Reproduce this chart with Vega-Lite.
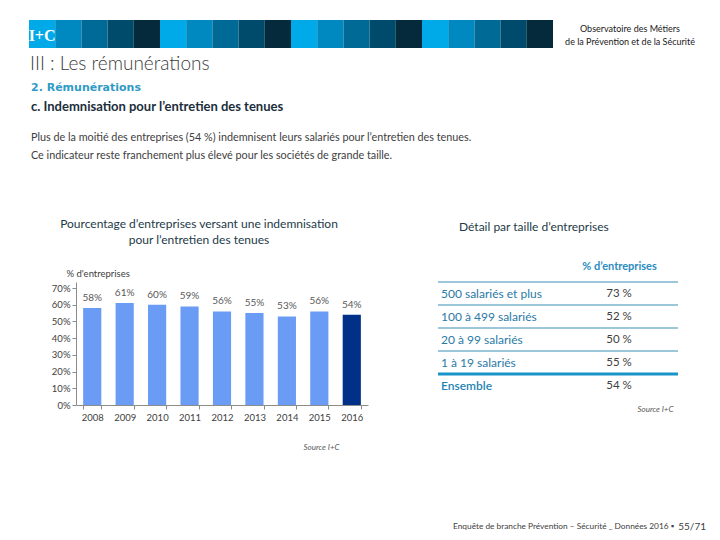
{
  "$schema": "https://vega.github.io/schema/vega-lite/v6.json",
  "background": "white",
  "padding": {"left": 28, "top": 20, "right": 0, "bottom": 0},
  "spacing": 0,
  "bounds": "flush",
  "config": {
    "view": {"stroke": null},
    "font": "Lato",
    "axis": {"labelFont": "Lato", "titleFont": "Lato"},
    "title": {"font": "Lato"}
  },
  "datasets": {
    "bande": [
      {"case": 1, "teinte": "a", "logo": "I+C"},
      {"case": 2, "teinte": "b"}, {"case": 3, "teinte": "c"}, {"case": 4, "teinte": "d"}, {"case": 5, "teinte": "e"},
      {"case": 6, "teinte": "a"}, {"case": 7, "teinte": "b"}, {"case": 8, "teinte": "c"}, {"case": 9, "teinte": "d"}, {"case": 10, "teinte": "e"},
      {"case": 11, "teinte": "a"}, {"case": 12, "teinte": "b"}, {"case": 13, "teinte": "c"}, {"case": 14, "teinte": "d"}, {"case": 15, "teinte": "e"},
      {"case": 16, "teinte": "a"}, {"case": 17, "teinte": "b"}, {"case": 18, "teinte": "c"}, {"case": 19, "teinte": "d"}, {"case": 20, "teinte": "e"}
    ],
    "entete": [
      {"ligne": 1, "texte": "Observatoire des Métiers"},
      {"ligne": 2, "texte": "de la Prévention et de la Sécurité"}
    ],
    "textes": [
      {"bloc": "partie", "texte": "III : Les rémunérations"},
      {"bloc": "section", "texte": "2. Rémunérations"},
      {"bloc": "sous-section", "texte": "c. Indemnisation pour l’entretien des tenues"},
      {"bloc": "commentaire", "texte": ["Plus de la moitié des entreprises (54 %) indemnisent leurs salariés pour l’entretien des tenues.", "Ce indicateur reste franchement plus élevé pour les sociétés de grande taille."]}
    ],
    "pied": [
      {"zone": "pied", "role": "source", "texte": "Enquête de branche Prévention – Sécurité _ Données 2016 ▪"},
      {"zone": "pied", "role": "page", "texte": "55/71"}
    ],
    "annees": [
      {"annee": "2008", "pct": 0.58},
      {"annee": "2009", "pct": 0.61},
      {"annee": "2010", "pct": 0.60},
      {"annee": "2011", "pct": 0.59},
      {"annee": "2012", "pct": 0.56},
      {"annee": "2013", "pct": 0.55},
      {"annee": "2014", "pct": 0.53},
      {"annee": "2015", "pct": 0.56},
      {"annee": "2016", "pct": 0.54}
    ],
    "tailles": [
      {"taille": "500 salariés et plus", "part": 0.73},
      {"taille": "100 à 499 salariés", "part": 0.52},
      {"taille": "20 à 99 salariés", "part": 0.50},
      {"taille": "1 à 19 salariés", "part": 0.55},
      {"taille": "Ensemble", "part": 0.54}
    ]
  },
  "vconcat": [
    {
      "spacing": 0,
      "bounds": "flush",
      "hconcat": [
        {
          "width": 524,
          "height": 28,
          "data": {"name": "bande"},
          "layer": [
            {
              "mark": {"type": "rect"},
              "encoding": {
                "x": {"field": "case", "type": "ordinal", "axis": null, "scale": {"paddingInner": 0, "paddingOuter": 0}},
                "color": {"field": "teinte", "type": "nominal", "legend": null,
                  "scale": {"domain": ["a", "b", "c", "d", "e"], "range": ["#00a9e8", "#0089c0", "#006a96", "#004b6b", "#052a3b"]}}
              }
            },
            {
              "transform": [{"filter": "isValid(datum.logo)"}],
              "mark": {"type": "text", "color": "white", "font": "Liberation Serif", "fontWeight": "bold", "fontSize": 16, "dy": 2},
              "encoding": {
                "x": {"field": "case", "type": "ordinal"},
                "text": {"field": "logo"}
              }
            }
          ]
        },
        {
          "width": 154,
          "height": 28,
          "data": {"name": "entete"},
          "mark": {"type": "text", "fontSize": 9, "color": "#1a1a1a"},
          "encoding": {
            "y": {"field": "ligne", "type": "ordinal", "axis": null, "scale": {"type": "point", "padding": 0.577, "align": 0.6}},
            "text": {"field": "texte"}
          }
        }
      ]
    },
    {"width": 10, "height": 28, "data": {"values": []}, "mark": "point", "encoding": {}},
    {
      "width": 600,
      "height": 32,
      "data": {"name": "textes"},
      "transform": [{"filter": "datum.bloc == 'partie'"}],
      "mark": {"type": "text", "align": "left", "baseline": "middle", "fontSize": 19, "fontWeight": 300, "color": "#3c3c3c", "dx": 1},
      "encoding": {
        "x": {"field": "bloc", "type": "nominal", "axis": null, "scale": {"type": "point", "padding": 0, "align": 0}},
        "text": {"field": "texte"}
      }
    },
    {
      "width": 600,
      "height": 16,
      "data": {"name": "textes"},
      "transform": [{"filter": "datum.bloc == 'section'"}],
      "mark": {"type": "text", "align": "left", "baseline": "middle", "font": "DejaVu Sans", "fontSize": 11, "fontWeight": "bold", "color": "#2f9bc6", "dx": 2},
      "encoding": {
        "x": {"field": "bloc", "type": "nominal", "axis": null, "scale": {"type": "point", "padding": 0, "align": 0}},
        "text": {"field": "texte"}
      }
    },
    {
      "width": 600,
      "height": 22,
      "data": {"name": "textes"},
      "transform": [{"filter": "datum.bloc == 'sous-section'"}],
      "mark": {"type": "text", "align": "left", "baseline": "middle", "fontSize": 13, "fontWeight": "bold", "color": "#1b2e3b", "dx": 2},
      "encoding": {
        "x": {"field": "bloc", "type": "nominal", "axis": null, "scale": {"type": "point", "padding": 0, "align": 0}},
        "text": {"field": "texte"}
      }
    },
    {
      "width": 600,
      "height": 58,
      "data": {"name": "textes"},
      "transform": [{"filter": "datum.bloc == 'commentaire'"}],
      "mark": {"type": "text", "align": "left", "baseline": "middle", "fontSize": 10.8, "lineHeight": 18, "color": "#404040", "dx": 2, "dy": -9},
      "encoding": {
        "x": {"field": "bloc", "type": "nominal", "axis": null, "scale": {"type": "point", "padding": 0, "align": 0}},
        "text": {"field": "texte"}
      }
    },
    {"width": 10, "height": 106, "data": {"values": []}, "mark": "point", "encoding": {}},
    {
      "spacing": 0,
      "bounds": "flush",
      "hconcat": [
        {"width": 47, "height": 1, "data": {"values": []}, "mark": "point", "encoding": {}},
        {
          "width": 292,
          "height": 123,
          "data": {"name": "annees"},
          "title": {
            "text": ["Pourcentage d’entreprises versant une indemnisation", "pour l’entretien des tenues"],
            "frame": "group",
            "anchor": "middle",
            "dx": -23,
            "offset": 21,
            "lineHeight": 16,
            "fontSize": 12,
            "fontWeight": "normal",
            "color": "#1d3a48"
          },
          "encoding": {
            "x": {
              "field": "annee", "type": "ordinal",
              "scale": {"paddingInner": 0.44, "paddingOuter": 0.22},
              "axis": {
                "title": "Source I+C",
                "titleFontSize": 8, "titleFontStyle": "italic", "titleFontWeight": "normal", "titleColor": "#595959",
                "titleX": 245, "titleY": 42, "titleAlign": "center", "titleBaseline": "middle",
                "labelAngle": 0, "labelFontSize": 9.5, "labelColor": "#404040", "labelPadding": 3,
                "tickBand": "extent", "tickSize": 4, "tickColor": "#8c8c8c", "domainColor": "#8c8c8c", "grid": false
              }
            },
            "y": {
              "field": "pct", "type": "quantitative",
              "scale": {"domain": [0, 0.736], "nice": false},
              "axis": {
                "values": [0, 0.1, 0.2, 0.3, 0.4, 0.5, 0.6, 0.7],
                "format": ".0%",
                "labelOverlap": false,
                "title": "% d'entreprises",
                "titleAngle": 0, "titleAlign": "left", "titleBaseline": "middle",
                "titleX": -10, "titleY": -9,
                "titleFontSize": 9.5, "titleFontWeight": "normal", "titleColor": "#404040",
                "labelFontSize": 9.5, "labelColor": "#404040", "labelPadding": 2,
                "tickSize": 4, "tickColor": "#8c8c8c", "domainColor": "#8c8c8c", "grid": false
              }
            }
          },
          "layer": [
            {
              "mark": {"type": "bar"},
              "encoding": {
                "color": {"condition": {"test": "datum.annee == '2016'", "value": "#003087"}, "value": "#6a9cf5"}
              }
            },
            {
              "mark": {"type": "text", "baseline": "bottom", "dy": -5, "fontSize": 10, "color": "#595959"},
              "encoding": {
                "text": {"field": "pct", "type": "quantitative", "format": ".0%"}
              }
            }
          ]
        },
        {"width": 70, "height": 1, "data": {"values": []}, "mark": "point", "encoding": {}},
        {
          "width": 240,
          "height": 115,
          "data": {"name": "tailles"},
          "transform": [{"calculate": "format(datum.part * 100, '.0f') + ' %'", "as": "libelle"}],
          "title": {
            "text": "Détail par taille d’entreprises",
            "frame": "group",
            "anchor": "start",
            "dx": 21,
            "offset": 26,
            "fontSize": 12,
            "fontWeight": "normal",
            "color": "#1d3a48"
          },
          "layer": [
            {
              "mark": {"type": "rule"},
              "encoding": {
                "y": {"field": "taille", "type": "nominal", "sort": null, "bandPosition": 0, "axis": null, "scale": {"paddingInner": 0, "paddingOuter": 0}},
                "strokeWidth": {"condition": {"test": "datum.taille === 'Ensemble'", "value": 3}, "value": 1},
                "color": {"condition": {"test": "datum.taille === 'Ensemble'", "value": "#1a93c8"}, "value": "#3a8db5"}
              }
            },
            {
              "transform": [{"filter": "datum.taille !== 'Ensemble'"}],
              "mark": {"type": "text", "align": "left", "dx": 3, "fontSize": 12, "color": "#2a7aa6"},
              "encoding": {
                "y": {"field": "taille", "type": "nominal", "sort": null},
                "x": {
                  "datum": "Taille d’entreprise", "type": "nominal",
                  "scale": {"type": "point", "domain": ["Taille d’entreprise", "% d’entreprises"], "padding": 0.163, "align": 0},
                  "axis": {
                    "orient": "top", "title": null, "domain": false, "ticks": false, "labelAngle": 0,
                    "labelExpr": "datum.value == '% d’entreprises' ? datum.label : ''",
                    "labelFontSize": 11, "labelFontWeight": "bold", "labelColor": "#2a8cc0", "labelPadding": 11
                  }
                },
                "text": {"field": "taille"}
              }
            },
            {
              "transform": [{"filter": "datum.taille === 'Ensemble'"}],
              "mark": {"type": "text", "align": "left", "dx": 3, "fontSize": 12, "fontWeight": 600, "color": "#1f84b3"},
              "encoding": {
                "y": {"field": "taille", "type": "nominal", "sort": null},
                "x": {"datum": "Taille d’entreprise", "type": "nominal", "axis": null},
                "text": {"field": "taille"}
              }
            },
            {
              "mark": {"type": "text", "fontSize": 11.5, "color": "#404040"},
              "encoding": {
                "y": {"field": "taille", "type": "nominal", "sort": null},
                "x": {
                  "datum": "% d’entreprises", "type": "nominal",
                  "axis": {
                    "orient": "bottom", "labels": false, "ticks": false, "domain": false,
                    "title": "Source I+C",
                    "titleFontSize": 8, "titleFontStyle": "italic", "titleFontWeight": "normal", "titleColor": "#595959",
                    "titleX": 235, "titleY": 12, "titleAlign": "right", "titleBaseline": "middle"
                  }
                },
                "text": {"field": "libelle"}
              }
            }
          ]
        }
      ]
    },
    {"width": 10, "height": 235, "data": {"values": []}, "mark": "point", "encoding": {}},
    {
      "width": 677,
      "height": 20,
      "data": {"name": "pied"},
      "layer": [
        {
          "transform": [{"filter": "datum.role == 'page'"}],
          "mark": {"type": "text", "align": "right", "fontSize": 10, "color": "#404040"},
          "encoding": {
            "x": {"field": "zone", "type": "nominal", "axis": null, "scale": {"type": "point", "padding": 0, "align": 1}},
            "text": {"field": "texte"}
          }
        },
        {
          "transform": [{"filter": "datum.role == 'source'"}],
          "mark": {"type": "text", "align": "right", "fontSize": 8.3, "color": "#404040", "dx": -32},
          "encoding": {
            "x": {"field": "zone", "type": "nominal"},
            "text": {"field": "texte"}
          }
        }
      ]
    }
  ]
}
